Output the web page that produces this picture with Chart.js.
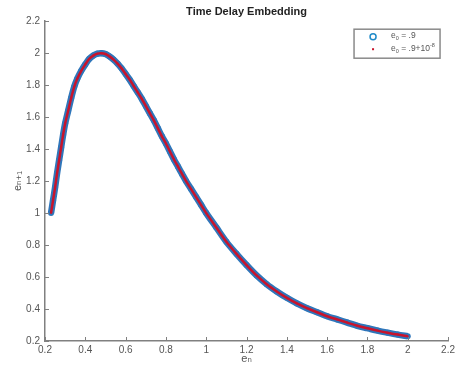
<!DOCTYPE html>
<html>
<head>
<meta charset="utf-8">
<script src="https://cdn.jsdelivr.net/npm/chart.js@4/dist/chart.umd.min.js"></script>
<style>
  html, body { margin: 0; padding: 0; background: #fff; }
  #wrap { width: 458px; height: 370px; }
</style>
</head>
<body>
<div id="wrap"><canvas id="myChart" width="458" height="370"></canvas></div>
<script>
// values (e_n, e_n+1)
const eN = [0.230, 0.240, 0.250, 0.260, 0.270, 0.280, 0.290, 0.300, 0.315, 0.330,
  0.345, 0.360, 0.380, 0.400, 0.420, 0.440, 0.460, 0.480, 0.500, 0.520,
  0.540, 0.560, 0.580, 0.600, 0.620, 0.640, 0.660, 0.680, 0.700, 0.720,
  0.740, 0.760, 0.780, 0.800, 0.820, 0.840, 0.860, 0.880, 0.900, 0.925,
  0.950, 0.975, 1.000, 1.050, 1.100, 1.150, 1.200, 1.250, 1.300, 1.350,
  1.400, 1.450, 1.500, 1.550, 1.600, 1.650, 1.700, 1.750, 1.800, 1.850,
  1.900, 1.950, 2.000]
const eN1 = [1.00, 1.08, 1.16, 1.25, 1.33, 1.41, 1.49, 1.56, 1.64, 1.72,
  1.79, 1.84, 1.89, 1.93, 1.965, 1.985, 1.997, 2.000, 1.995, 1.98,
  1.96, 1.935, 1.905, 1.87, 1.835, 1.795, 1.755, 1.715, 1.67, 1.625,
  1.58, 1.53, 1.48, 1.435, 1.385, 1.335, 1.29, 1.245, 1.20, 1.15,
  1.10, 1.05, 1.00, 0.91, 0.82, 0.745, 0.675, 0.61, 0.555, 0.51,
  0.47, 0.435, 0.405, 0.38, 0.355, 0.335, 0.315, 0.295, 0.28, 0.265,
  0.252, 0.24, 0.23]
const xTicks = [0.2, 0.4, 0.6, 0.8, 1, 1.2, 1.4, 1.6, 1.8, 2, 2.2]
const yTicks = [0.2, 0.4, 0.6, 0.8, 1, 1.2, 1.4, 1.6, 1.8, 2, 2.2]
const legendLabels = ['e\u2080 = .9', 'e\u2080 = .9+10\u207B\u2078']
// same labels split into pieces: [text, shift] with shift 1 = subscript, -1 = superscript
const legendParts = [
  [['e', 0], ['0', 1], [' = .9', 0]],
  [['e', 0], ['0', 1], [' = .9+10', 0], ['-8', -1]]
]

const FONT = "'Liberation Sans', Arial, 'DejaVu Sans', sans-serif"
const AXIS = '#808080'
const BLUE = '#2f76ba'
const RED = '#c8142c'

const pts = eN.map((x, i) => ({ x: x, y: eN1[i] }))

// matlab style ticks pointing into the plot
const inwardTicks = {
  id: 'inwardTicks',
  afterDraw(chart) {
    const { ctx, chartArea, scales } = chart
    ctx.save()
    ctx.strokeStyle = AXIS
    ctx.lineWidth = 1
    for (const v of xTicks) {
      const px = Math.round(scales.x.getPixelForValue(v)) + 0.5
      ctx.beginPath()
      ctx.moveTo(px, chartArea.bottom)
      ctx.lineTo(px, chartArea.bottom - 4)
      ctx.stroke()
    }
    for (const v of yTicks) {
      const py = Math.round(scales.y.getPixelForValue(v)) + 0.5
      ctx.beginPath()
      ctx.moveTo(chartArea.left, py)
      ctx.lineTo(chartArea.left + 4, py)
      ctx.stroke()
    }
    ctx.restore()
  }
}

function drawRich(ctx, parts, x, y) {
  for (const [txt, shift] of parts) {
    ctx.font = (shift ? '5.5px ' : '8.5px ') + FONT
    ctx.fillText(txt, x, y + shift * 3)
    x += ctx.measureText(txt).width
  }
}

// boxed legend in the top right corner
const boxLegend = {
  id: 'boxLegend',
  afterDraw(chart) {
    const { ctx, chartArea } = chart
    const r = chartArea.right - 8
    const t = chartArea.top + 8
    const l = r - 86
    ctx.save()
    ctx.fillStyle = '#fff'
    ctx.fillRect(l, t, 86, 29)
    ctx.strokeStyle = '#8a8a8a'
    ctx.lineWidth = 1.5
    ctx.strokeRect(l, t, 86, 29)
    ctx.strokeStyle = '#1f8ac8'
    ctx.lineWidth = 1.5
    ctx.beginPath()
    ctx.arc(l + 19, t + 7.5, 3, 0, Math.PI * 2)
    ctx.stroke()
    ctx.fillStyle = RED
    ctx.fillRect(l + 18, t + 19, 2, 2)
    ctx.fillStyle = '#555'
    ctx.textBaseline = 'middle'
    drawRich(ctx, legendParts[0], l + 37, t + 6)
    drawRich(ctx, legendParts[1], l + 37, t + 19)
    ctx.restore()
  }
}

const ctx = document.getElementById('myChart')
new Chart(ctx, {
  type: 'scatter',
  data: {
    datasets: [{
      label: legendLabels[1],
      data: pts,
      order: 0,
      showLine: true,
      borderColor: RED,
      borderWidth: 2.5,
      pointRadius: 1,
      pointBorderWidth: 0,
      pointBackgroundColor: RED,
      tension: 0.3
    }, {
      label: legendLabels[0],
      data: pts,
      order: 1,
      showLine: true,
      borderColor: BLUE,
      borderWidth: 6.5,
      pointRadius: 3,
      pointBorderWidth: 0,
      pointBackgroundColor: BLUE,
      tension: 0.3
    }]
  },
  options: {
    responsive: false,
    animation: false,
    layout: { padding: { left: 0, right: 3, top: 0, bottom: 0 } },
    plugins: {
      legend: { display: false },
      tooltip: { enabled: false },
      title: {
        display: true,
        text: 'Time Delay Embedding',
        fullSize: false,
        color: '#222',
        font: { family: FONT, size: 11, weight: 'bold' },
        padding: { top: 5, bottom: 3 }
      }
    },
    scales: {
      x: {
        type: 'linear',
        min: 0.2,
        max: 2.2,
        afterFit: s => { s.height = 29 },
        afterBuildTicks: s => { s.ticks = xTicks.map(v => ({ value: v })) },
        grid: { display: false, drawTicks: false },
        border: { display: true, color: AXIS, width: 1.5 },
        ticks: {
          color: '#555',
          padding: 3,
          maxRotation: 0,
          font: { family: FONT, size: 10 },
          callback: v => String(+v.toFixed(1))
        },
        title: {
          display: true,
          text: 'e\u2099',
          color: '#555',
          font: { family: FONT, size: 11 },
          padding: { top: 0, bottom: 4 }
        }
      },
      y: {
        type: 'linear',
        min: 0.2,
        max: 2.2,
        afterFit: s => { s.width = 45 },
        afterBuildTicks: s => { s.ticks = yTicks.map(v => ({ value: v })) },
        grid: { display: false, drawTicks: false },
        border: { display: true, color: AXIS, width: 1.5 },
        ticks: {
          color: '#555',
          padding: 5,
          font: { family: FONT, size: 10 },
          callback: v => String(+v.toFixed(1))
        },
        title: {
          display: true,
          text: 'e\u2099\u208A\u2081',
          color: '#555',
          font: { family: FONT, size: 11 },
          padding: { top: 11, bottom: 0 }
        }
      }
    }
  },
  plugins: [inwardTicks, boxLegend]
})
</script>
</body>
</html>
